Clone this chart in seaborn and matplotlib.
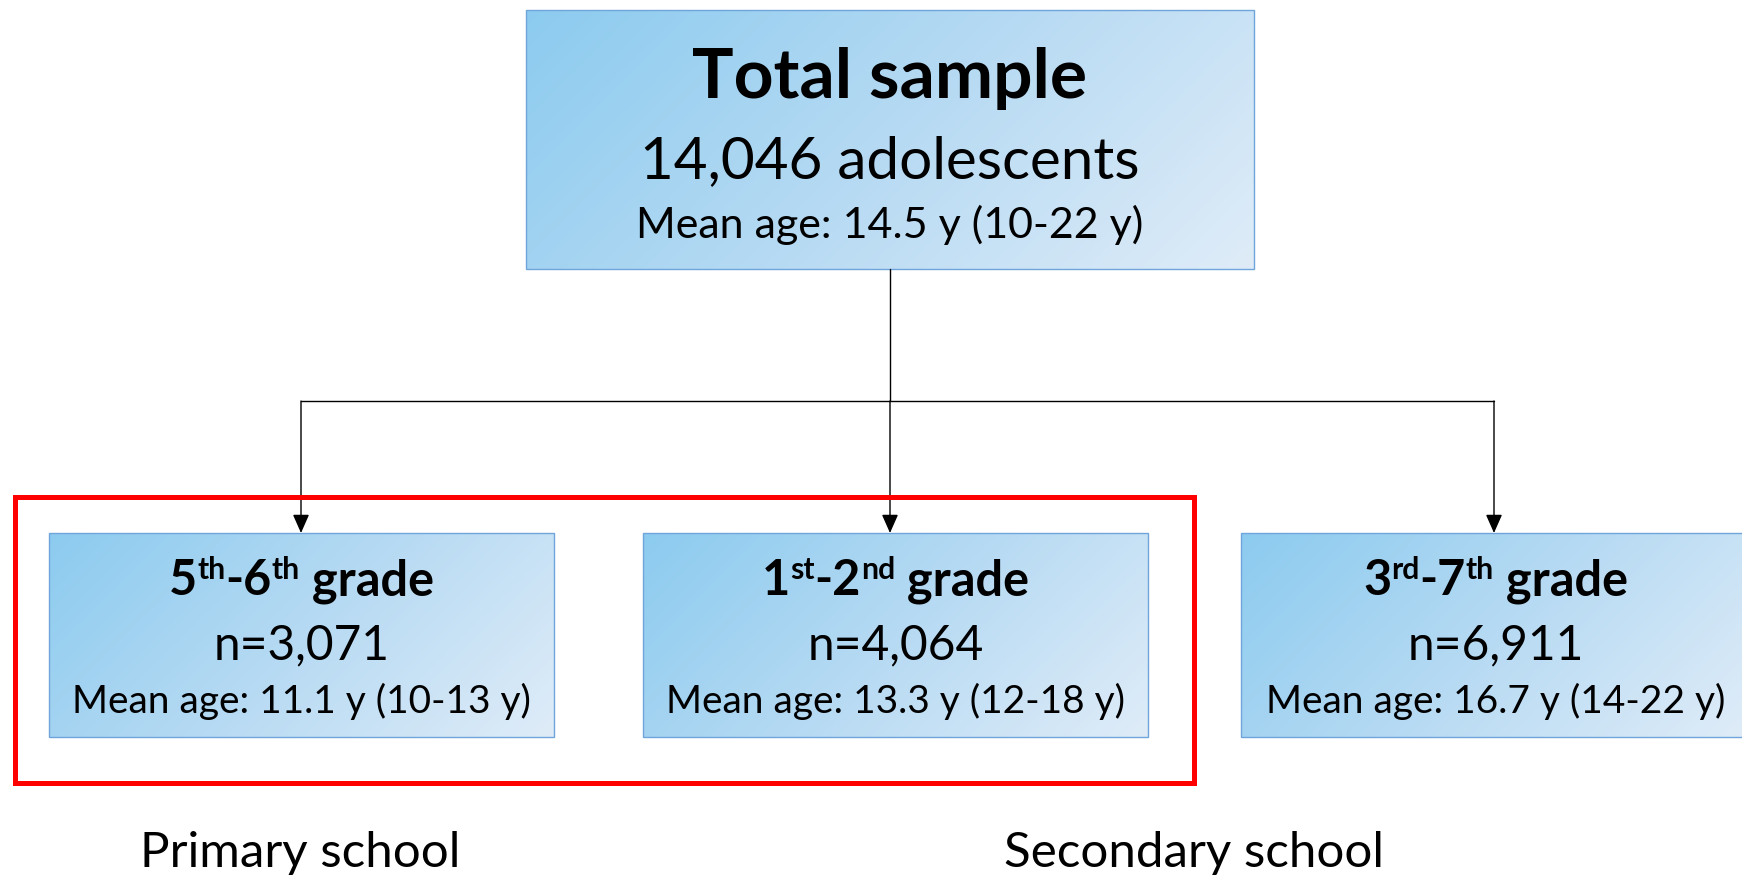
import numpy as np
import matplotlib.pyplot as plt
import seaborn as sns
from matplotlib.patches import Rectangle
from matplotlib.colors import LinearSegmentedColormap

sns.set_style("white")
plt.rcParams["font.family"] = ["Lato", "DejaVu Sans"]
plt.rcParams["text.color"] = "black"

# data
total_title = "Total sample"
total_n = "14,046"
total_mean = 14.5
total_range = (10, 22)

grade_from = ["5", "1", "3"]
sup_from = ["th", "st", "rd"]
grade_to = ["6", "2", "7"]
sup_to = ["th", "nd", "th"]
group_n = [3071, 4064, 6911]
group_mean = [11.1, 13.3, 16.7]
group_range = [(10, 13), (12, 18), (14, 22)]
school_labels = ["Primary school", "Secondary school"]

# layout in pixels (y downwards)
W, H = 1742, 876
top_box = (526, 10, 1254, 269)
boxes = [(49, 533, 554, 737), (643, 533, 1148, 737), (1241, 533, 1745, 737)]
split_y = 401
red_rect = (15, 497, 1194, 783)
school_x = [300, 1194]

fig = plt.figure(figsize=(W / 100, H / 100), dpi=100)
ax = fig.add_axes([0, 0, 1, 1])
ax.set_xlim(0, W)
ax.set_ylim(H, 0)
ax.axis("off")

grad = LinearSegmentedColormap.from_list("g", ["#8ccbef", "#b6daf3", "#dfecf8"])


def draw_box(x0, y0, x1, y1):
    gx, gy = np.meshgrid(np.linspace(0, 1, 200), np.linspace(0, 1, 100))
    z = (gx * (x1 - x0) + gy * (y1 - y0)) / ((x1 - x0) + (y1 - y0))
    im = ax.imshow(z, cmap=grad, extent=(x0, x1, y1, y0), origin="upper",
                   aspect="auto", zorder=1, interpolation="bilinear")
    rect = Rectangle((x0, y0), x1 - x0, y1 - y0, fc="none", ec="#6fa5da",
                     lw=1.0, zorder=2)
    ax.add_patch(rect)
    im.set_clip_path(rect)


renderer = fig.canvas.get_renderer()


def rich_text(x, y, pieces, size, weight="bold"):
    # pieces: (text, is_superscript); centred at x, baseline at y
    px = size * 100 / 72
    items = []
    for s, sup in pieces:
        fs = size * 0.62 if sup else size
        t = ax.text(0, 0, s, fontsize=fs, fontweight=weight, va="baseline",
                    ha="left", zorder=5)
        w = t.get_window_extent(renderer).width
        items.append((t, w, sup))
    total = sum(w for _, w, _ in items)
    cur = x - total / 2
    for t, w, sup in items:
        t.set_position((cur, y - (px * 0.33 if sup else 0)))
        cur += w


# top box
draw_box(*top_box)
cx = (top_box[0] + top_box[2]) / 2
ax.text(cx, 98, total_title, fontsize=50, fontweight="bold", ha="center",
        va="baseline", zorder=5)
ax.text(cx, 178, f"{total_n} adolescents", fontsize=42, ha="center",
        va="baseline", zorder=5)
ax.text(cx, 238, f"Mean age: {total_mean} y ({total_range[0]}-{total_range[1]} y)",
        fontsize=31, ha="center", va="baseline", zorder=5)

# connectors
ax.plot([cx, cx], [top_box[3], split_y], color="black", lw=1.0, zorder=3)
centers = [301, 890, 1494]
ax.plot([centers[0], centers[-1]], [split_y, split_y], color="black", lw=1.0, zorder=3)
for c, b in zip(centers, boxes):
    ax.annotate("", xy=(c, b[1]), xytext=(c, split_y),
                arrowprops=dict(arrowstyle="-|>,head_length=0.95,head_width=0.42",
                                color="black", lw=1.0, mutation_scale=12,
                                shrinkA=0, shrinkB=0), zorder=4)

# group boxes
for i, b in enumerate(boxes):
    draw_box(*b)
    bx = (b[0] + b[2]) / 2 if i < 2 else (b[0] + 1742) / 2 + 4
    rich_text(bx, 595, [(grade_from[i], False), (sup_from[i], True),
                        ("-" + grade_to[i], False), (sup_to[i], True),
                        (" grade", False)], 35)
    ax.text(bx, 659, f"n={group_n[i]:,}", fontsize=34.5, ha="center",
            va="baseline", zorder=5)
    r = group_range[i]
    ax.text(bx, 713, f"Mean age: {group_mean[i]} y ({r[0]}-{r[1]} y)",
            fontsize=28, ha="center", va="baseline", zorder=5)

# red frame
ax.add_patch(Rectangle((red_rect[0], red_rect[1]), red_rect[2] - red_rect[0],
                       red_rect[3] - red_rect[1], fc="none", ec="#ff0000",
                       lw=3.6, zorder=6))

for lab, x in zip(school_labels, school_x):
    ax.text(x, 867, lab, fontsize=35.5, ha="center", va="baseline", zorder=5)

fig.savefig("out.png", dpi=100)
